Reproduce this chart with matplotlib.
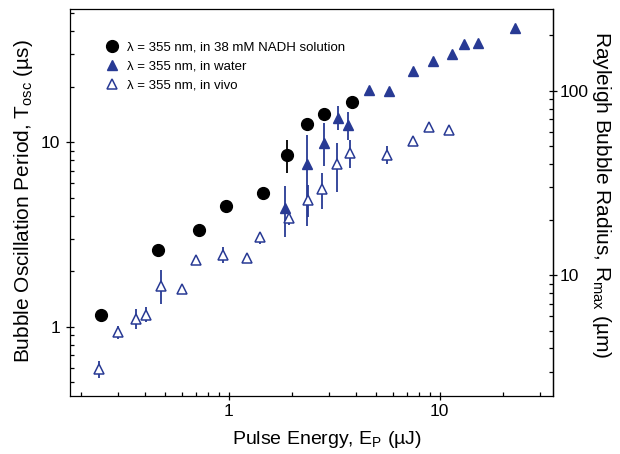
import numpy as np
import matplotlib
matplotlib.use('Agg')
import matplotlib.pyplot as plt
from matplotlib.ticker import FixedLocator, NullFormatter, FuncFormatter

plt.rcParams['font.family'] = ['Liberation Sans', 'DejaVu Sans']
plt.rcParams['mathtext.fontset'] = 'custom'
plt.rcParams['mathtext.rm'] = 'Liberation Sans'
plt.rcParams['mathtext.it'] = 'Liberation Sans:italic'

BLUE = '#283a94'

# NADH solution (black circles)
nadh_e = [0.248, 0.464, 0.724, 0.969, 1.46, 1.90, 2.35, 2.83, 3.83]
nadh_t = [1.15, 2.60, 3.34, 4.50, 5.29, 8.57, 12.5, 14.2, 16.5]
nadh_lo = [np.nan] * 5 + [6.82] + [np.nan] * 3
nadh_hi = [np.nan] * 5 + [10.3] + [np.nan] * 3

# water (filled triangles)
water_e = [1.86, 2.36, 2.83, 3.31, 3.69, 4.64, 5.74, 7.51, 9.30, 11.4, 13.1, 15.3, 22.7]
water_t = [4.39, 7.60, 9.88, 13.6, 12.4, 19.2, 19.0, 24.4, 27.5, 30.1, 34.0, 34.4, 41.7]
water_lo = [3.08, 3.51, 7.39, 11.7, 10.3] + [np.nan] * 8
water_hi = [5.80, 10.9, 12.7, 15.7, 14.6] + [np.nan] * 8

# in vivo (open triangles)
vivo_e = [0.243, 0.300, 0.363, 0.408, 0.477, 0.601, 0.698, 0.941, 1.22, 1.41,
          1.93, 2.38, 2.78, 3.27, 3.76, 5.62, 7.47, 8.88, 11.1]
vivo_t = [0.587, 0.932, 1.105, 1.161, 1.668, 1.60, 2.30, 2.45, 2.37, 3.05,
          3.87, 4.86, 5.58, 7.63, 8.71, 8.53, 10.2, 12.1, 11.7]
vivo_lo = [0.529, 0.855, 0.968, 1.056, 1.33, np.nan, np.nan, 2.21, np.nan, 2.81,
           3.55, 3.95, 4.33, 5.40, 7.24, 7.60, np.nan, 11.5, np.nan]
vivo_hi = [0.652, 1.009, 1.252, 1.284, 2.02, np.nan, np.nan, 2.72, np.nan, 3.28,
           4.20, 5.87, 6.84, 9.87, 10.3, 9.54, np.nan, 12.6, np.nan]

# tick values
x_major = [1, 10]
x_minor = [0.2, 0.3, 0.4, 0.5, 0.6, 0.7, 0.8, 0.9,
           2, 3, 4, 5, 6, 7, 8, 9, 20, 30]
y_major = [1, 10]
y_minor = [0.5, 0.6, 0.7, 0.8, 0.9, 2, 3, 4, 5, 6, 7, 8, 9, 20, 30, 40, 50]
r_major = [10, 100]
r_minor = [3, 4, 5, 6, 7, 8, 9, 20, 30, 40, 50, 60, 70, 80, 90, 200]

# Rayleigh radius (um) per oscillation period (us)
R_PER_T = 5.25


def draw_errors(ax, e, t, lo, hi, color):
    e, t, lo, hi = map(np.asarray, (e, t, lo, hi))
    m = ~np.isnan(lo)
    ax.errorbar(e[m], t[m], yerr=[t[m] - lo[m], hi[m] - t[m]], fmt='none',
                ecolor=color, elinewidth=1.3, capsize=0, zorder=2)


fig = plt.figure(figsize=(6.2, 4.54), dpi=100)
ax = fig.add_axes([0.1129, 0.1278, 0.7790, 0.8517])

draw_errors(ax, nadh_e, nadh_t, nadh_lo, nadh_hi, 'black')
draw_errors(ax, water_e, water_t, water_lo, water_hi, BLUE)
draw_errors(ax, vivo_e, vivo_t, vivo_lo, vivo_hi, BLUE)

ax.plot(nadh_e, nadh_t, 'o', color='black', ms=8.5, ls='none', zorder=3,
        label='λ = 355 nm, in 38 mM NADH solution')
ax.plot(water_e, water_t, '^', color=BLUE, ms=7, ls='none', zorder=3,
        label='λ = 355 nm, in water')
ax.plot(vivo_e, vivo_t, '^', mfc='white', mec=BLUE, mew=1.1, ms=7, ls='none',
        zorder=3, label='λ = 355 nm, in vivo')

ax.set_xscale('log')
ax.set_yscale('log')
ax.set_xlim(0.177, 34.5)
ax.set_ylim(0.421, 52.6)

plain = FuncFormatter(lambda v, p: f'{v:g}')
ax.xaxis.set_major_locator(FixedLocator(x_major))
ax.xaxis.set_minor_locator(FixedLocator(x_minor))
ax.yaxis.set_major_locator(FixedLocator(y_major))
ax.yaxis.set_minor_locator(FixedLocator(y_minor))
for axis in (ax.xaxis, ax.yaxis):
    axis.set_major_formatter(plain)
    axis.set_minor_formatter(NullFormatter())

ax.tick_params(which='major', direction='inout', length=6, width=0.9,
               labelsize=12.5, pad=3)
ax.tick_params(which='minor', direction='in', length=3, width=0.9)
ax.tick_params(axis='y', which='major', pad=4)
for s in ax.spines.values():
    s.set_linewidth(0.9)

ax2 = ax.secondary_yaxis('right', functions=(lambda t: t * R_PER_T,
                                             lambda r: r / R_PER_T))
ax2.set_yscale('log')
ax2.yaxis.set_major_locator(FixedLocator(r_major))
ax2.yaxis.set_minor_locator(FixedLocator(r_minor))
ax2.yaxis.set_major_formatter(plain)
ax2.yaxis.set_minor_formatter(NullFormatter())
ax2.tick_params(which='major', direction='inout', length=6, width=0.9,
                labelsize=12.5, pad=2)
ax2.tick_params(which='minor', direction='in', length=3, width=0.9)
ax2.spines['right'].set_linewidth(0.9)

ax.set_xlabel('Pulse Energy, E$_{\\rm P}$ (µJ)', fontsize=14, labelpad=7)
ax.set_ylabel('Bubble Oscillation Period, T$_{\\rm osc}$ (µs)', fontsize=15,
              labelpad=4)
ax2.set_ylabel('Rayleigh Bubble Radius, R$_{\\rm max}$ (µm)', fontsize=15,
               rotation=270, va='bottom', labelpad=0.5)
ax.xaxis.label.set_x(0.532)
ax.yaxis.label.set_y(0.505)
ax2.yaxis.label.set_y(0.52)

ax.legend(loc='upper left', bbox_to_anchor=(0.06, 0.93), frameon=False,
          fontsize=9.5, handletextpad=0.5, labelspacing=0.5, handlelength=1.2,
          borderaxespad=0)

fig.savefig('out.png', dpi=100)
